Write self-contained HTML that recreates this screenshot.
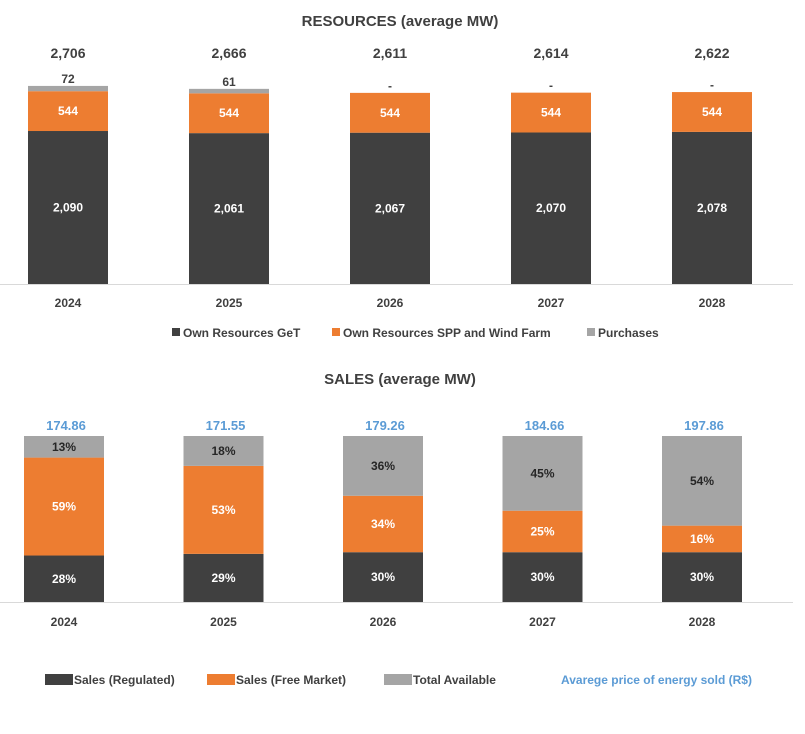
<!DOCTYPE html>
<html><head><meta charset="utf-8"><style>
body{margin:0;background:#fff;font-family:"Liberation Sans",sans-serif}
svg text{font-family:"Liberation Sans",sans-serif;font-weight:bold}
</style></head><body>
<svg id="c" width="805" height="729" xmlns="http://www.w3.org/2000/svg">
<text x="400" y="26" text-anchor="middle" font-size="15" fill="#404040">RESOURCES (average MW)</text>
<line x1="0" y1="284.5" x2="793" y2="284.5" stroke="#d9d9d9"/>
<text x="400" y="384" text-anchor="middle" font-size="15" fill="#404040">SALES (average MW)</text>
<line x1="0" y1="602.5" x2="793" y2="602.5" stroke="#d9d9d9"/>
<g>
<rect x="172" y="328" width="8" height="8" fill="#404040"/>
<text x="183" y="337" font-size="12" fill="#404040">Own Resources GeT</text>
<rect x="332" y="328" width="8" height="8" fill="#ed7d31"/>
<text x="343" y="337" font-size="12" fill="#404040">Own Resources SPP and Wind Farm</text>
<rect x="587" y="328" width="8" height="8" fill="#a5a5a5"/>
<text x="598" y="337" font-size="12" fill="#404040">Purchases</text>
</g>
<g>
<rect x="45" y="674" width="28" height="11" fill="#404040"/>
<text x="74" y="684" font-size="12" fill="#404040">Sales (Regulated)</text>
<rect x="207" y="674" width="28" height="11" fill="#ed7d31"/>
<text x="236" y="684" font-size="12" fill="#404040">Sales (Free Market)</text>
<rect x="384" y="674" width="28" height="11" fill="#a5a5a5"/>
<text x="413" y="684" font-size="12" fill="#404040">Total Available</text>
<text x="561" y="684" font-size="12" fill="#5b9bd5">Avarege price of energy sold (R$)</text>
</g>
</svg>
<script>
const years=["2024","2025","2026","2027","2028"];
const ownGeT=[2090,2061,2067,2070,2078];
const ownSPP=[544,544,544,544,544];
const purchases=[72,61,0,0,0];
const totals=["2,706","2,666","2,611","2,614","2,622"];
const salesReg=[28,29,30,30,30];
const salesFree=[59,53,34,25,16];
const salesAvail=[13,18,36,45,54];
const prices=[174.86,171.55,179.26,184.66,197.86];

const svg=document.getElementById('c');
const NS="http://www.w3.org/2000/svg";
function mk(tag,attrs,txt){const e=document.createElementNS(NS,tag);for(const k in attrs)e.setAttribute(k,attrs[k]);if(txt!==undefined)e.textContent=txt;svg.appendChild(e);return e;}
const fmt=v=>v.toLocaleString('en-US');
// top chart scales
const tBase=284,tK=0.0732,tX=i=>68+i*161,bw=80;
const ty=v=>tBase-v*tK;
years.forEach((y,i)=>{
  const cx=tX(i);
  let r=mk('rect',{x:cx-bw/2,y:ty(ownGeT[i]),width:bw,height:ownGeT[i]*tK,fill:'#404040'});
  
  let t=mk('text',{x:cx,y:ty(ownGeT[i]/2)+4,'text-anchor':'middle','font-size':12,fill:'#fff'},fmt(ownGeT[i]));
  
  const s1=ownGeT[i];
  r=mk('rect',{x:cx-bw/2,y:ty(s1+ownSPP[i]),width:bw,height:ownSPP[i]*tK,fill:'#ed7d31'});
  
  t=mk('text',{x:cx,y:ty(s1+ownSPP[i]/2)+4,'text-anchor':'middle','font-size':12,fill:'#fff'},fmt(ownSPP[i]));
  
  const s2=s1+ownSPP[i];
  r=mk('rect',{x:cx-bw/2,y:ty(s2+purchases[i]),width:bw,height:purchases[i]*tK,fill:'#a5a5a5'});
  
  t=mk('text',{x:cx,y:ty(s2+purchases[i])-3,'text-anchor':'middle','font-size':12,fill:'#404040'},purchases[i]?fmt(purchases[i]):'-');
  
  t=mk('text',{x:cx,y:58,'text-anchor':'middle','font-size':14,fill:'#404040'},totals[i]);
  
  t=mk('text',{x:cx,y:307,'text-anchor':'middle','font-size':12,fill:'#404040'},y);
  
});
// bottom chart
const bBase=602,bK=1.66,bX=i=>64+i*159.5;
const by=v=>bBase-v*bK;
years.forEach((y,i)=>{
  const cx=bX(i);
  const segs=[[salesReg,'#404040','#fff','regulated'],[salesFree,'#ed7d31','#fff','free-market'],[salesAvail,'#a5a5a5','#262626','available']];
  let acc=0;
  segs.forEach(([arr,fill,tc,nm])=>{
    const v=arr[i];
    let r=mk('rect',{x:cx-bw/2,y:by(acc+v),width:bw,height:v*bK,fill:fill});
    
    let t=mk('text',{x:cx,y:by(acc+v/2)+4,'text-anchor':'middle','font-size':12,fill:tc},v+'%');
    
    acc+=v;
  });
  let t=mk('text',{x:cx+2,y:by(acc)-6,'text-anchor':'middle','font-size':13,fill:'#5b9bd5'},prices[i].toFixed(2));
  
  t=mk('text',{x:cx,y:626,'text-anchor':'middle','font-size':12,fill:'#404040'},y);
  
});
</script>
</body></html>
